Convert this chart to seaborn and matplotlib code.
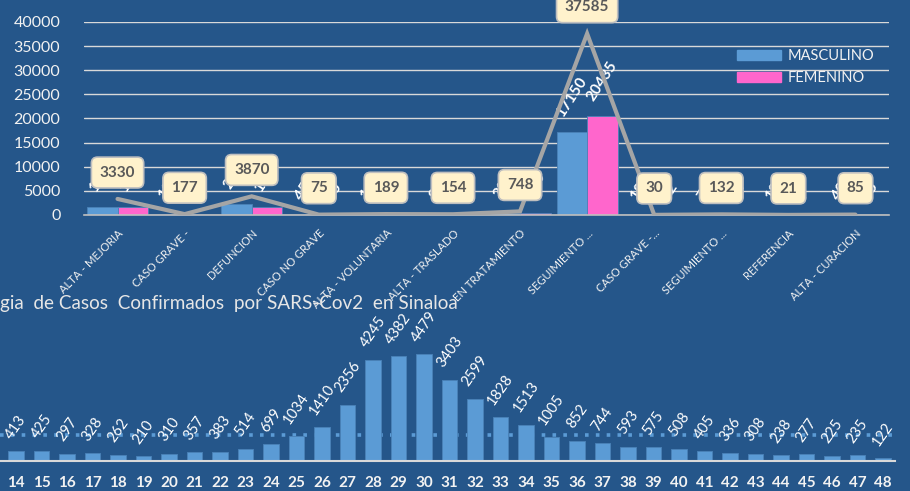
import matplotlib
matplotlib.use("Agg")
import matplotlib.pyplot as plt
import seaborn as sns
import numpy as np
import pandas as pd
from matplotlib.patches import Patch

# --- top chart data: outcome by sex ---
categorias = ["ALTA - MEJORIA", "CASO GRAVE -", "DEFUNCION", "CASO NO GRAVE",
              "ALTA - VOLUNTARIA", "ALTA - TRASLADO", "EN TRATAMIENTO",
              "SEGUIMIENTO ...", "CASO GRAVE -...", "SEGUIMIENTO ...",
              "REFERENCIA", "ALTA - CURACION"]
masculino = [1700, 100, 2300, 45, 110, 90, 330, 17150, 18, 70, 12, 40]
femenino = [1630, 77, 1570, 30, 79, 64, 418, 20435, 12, 62, 9, 45]
y_ticks_top = [0, 5000, 10000, 15000, 20000, 25000, 30000, 35000, 40000]

# --- bottom chart data: confirmed cases per epidemiological week ---
semanas = list(range(14, 49))
casos_semana = [413, 425, 297, 328, 262, 210, 310, 357, 383, 514, 699, 1034,
                1410, 2356, 4245, 4382, 4479, 3403, 2599, 1828, 1513, 1005,
                852, 744, 593, 575, 508, 405, 336, 308, 238, 277, 225, 235, 122]

titulo_inferior = "gia  de Casos  Confirmados  por SARS-Cov2  en Sinaloa"

BG = "#25568A"
AZUL = "#5B9BD5"
ROSA = "#FF66CC"
GRIS = "#A5A5A5"
TXT = "#F2F2F2"

sns.set_style("white")
plt.rcParams["font.family"] = ["Lato", "DejaVu Sans"]

fig = plt.figure(figsize=(9.1, 4.91), dpi=100, facecolor=BG)

# ================= top chart =================
ax1 = fig.add_axes([84 / 910, 276 / 491, 805 / 910, 193 / 491])
ax1.set_facecolor(BG)

pos = list(range(len(categorias)))
df_top = pd.DataFrame({
    "pos": pos * 2,
    "casos": masculino + femenino,
    "sexo": ["MASCULINO"] * len(pos) + ["FEMENINO"] * len(pos),
})
total = [m + f for m, f in zip(masculino, femenino)]

sns.barplot(data=df_top, x="pos", y="casos", hue="sexo",
            palette={"MASCULINO": AZUL, "FEMENINO": ROSA},
            width=0.91, gap=0, saturation=1, legend=False, ax=ax1, zorder=2,
            linewidth=0.6, edgecolor="#4A82B8")

for cont in ax1.containers:
    ax1.bar_label(cont, labels=[f"{int(v)}" for v in cont.datavalues],
                  rotation=57, padding=9, color="white", fontsize=11,
                  fontweight="bold", zorder=3)

ax1.plot(pos, total, color=GRIS, lw=3, zorder=4, solid_joinstyle="miter")

for i, t in enumerate(total):
    ax1.annotate(f"{t}", (i, t), xytext=(0, 19), textcoords="offset points",
                 ha="center", va="center", fontsize=11, fontweight="bold",
                 color="#595959", zorder=6, annotation_clip=False,
                 bbox=dict(boxstyle="round,pad=0.55,rounding_size=0.4",
                           fc="#FFF2CC", ec="#BFBFBF", lw=1.2))

ax1.set_ylim(0, 40000)
ax1.set_xlim(-0.5, len(categorias) - 0.5)
ax1.set_yticks(y_ticks_top)
ax1.yaxis.grid(True, color="#D9D9D9", lw=1)
ax1.set_axisbelow(True)
for s in ["top", "right", "left"]:
    ax1.spines[s].set_visible(False)
ax1.spines["bottom"].set_color("#BFBFBF")
ax1.spines["bottom"].set_linewidth(1.2)
ax1.set_xticks(pos)
ax1.set_xticklabels(categorias, rotation=45, ha="right", rotation_mode="anchor",
                    fontsize=8, color=TXT)
ax1.set_xticks(np.arange(-0.5, len(categorias)), minor=True)
ax1.tick_params(axis="x", which="major", length=0, pad=9)
ax1.tick_params(axis="x", which="minor", length=4, color="#BFBFBF", width=1)
ax1.tick_params(axis="y", length=0, labelsize=11.5, labelcolor=TXT, pad=17)
ax1.set_xlabel("")
ax1.set_ylabel("")

fig.legend(handles=[Patch(color=AZUL, label="MASCULINO"),
                    Patch(color=ROSA, label="FEMENINO")],
           loc="upper left", bbox_to_anchor=(731 / 910, 1 - 43 / 491),
           frameon=False, fontsize=10.5, labelcolor=TXT,
           handlelength=3, handleheight=0.7, labelspacing=0.55,
           handletextpad=0.5, borderaxespad=0)

# ================= bottom chart =================
ax2 = fig.add_axes([0, 30 / 491, 895 / 910, 171 / 491])
ax2.set_facecolor("none")

df_sem = pd.DataFrame({"semana": semanas, "casos": casos_semana})
sns.barplot(data=df_sem, x="semana", y="casos", color=AZUL, width=0.6,
            saturation=1, ax=ax2, zorder=2, linewidth=0.6, edgecolor="#4A82B8")
ax2.bar_label(ax2.containers[0], labels=[str(v) for v in casos_semana],
              rotation=55, padding=7, color="white", fontsize=10.5)

promedio = np.mean(casos_semana)
ax2.axhline(promedio, color=AZUL, lw=2.6, ls=(0, (1, 2)), zorder=1)

ax2.set_ylim(0, 7155)
ax2.set_xlim(-0.63, len(semanas) - 1 + 0.47)
for s in ["top", "right", "left"]:
    ax2.spines[s].set_visible(False)
ax2.spines["bottom"].set_color("#D9D9D9")
ax2.spines["bottom"].set_linewidth(1.5)
ax2.set_yticks([])
ax2.tick_params(axis="x", length=0, pad=11, labelsize=11, labelcolor=TXT)
for lbl in ax2.get_xticklabels():
    lbl.set_fontweight("bold")
ax2.set_xlabel("")
ax2.set_ylabel("")

fig.text(0, 1 - 303 / 491, titulo_inferior, ha="left", va="center",
         fontsize=13.6, color="#E6E6E6")

fig.savefig("out.png", dpi=100, facecolor=BG)
